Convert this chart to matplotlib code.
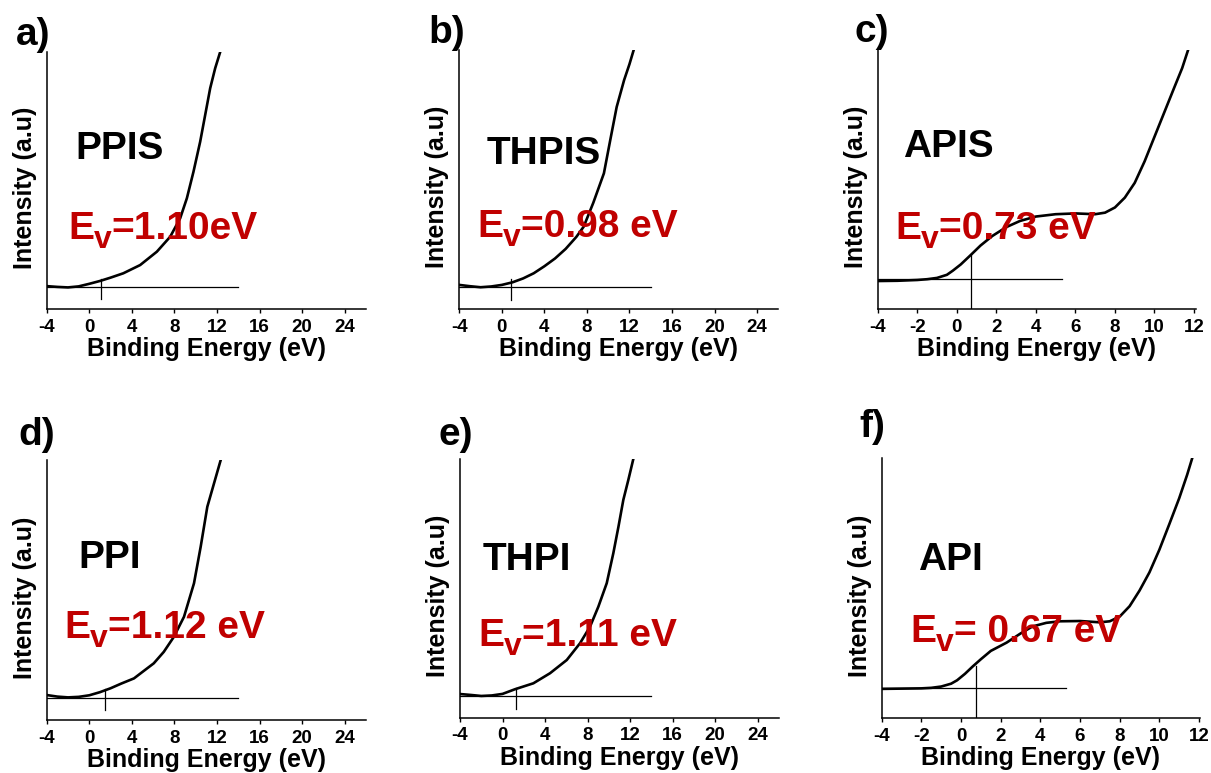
import matplotlib
matplotlib.use("Agg")
import matplotlib.pyplot as plt

W, H, DPI = 1211, 773, 100
RED = "#C00000"

# ---- data (intensity normalised 0..1 per panel) ----
letters = ["a)", "b)", "c)", "d)", "e)", "f)"]
names = ["PPIS", "THPIS", "APIS", "PPI", "THPI", "API"]
ev_texts = ["=1.10eV", "=0.98 eV", "=0.73 eV", "=1.12 eV", "=1.11 eV", "= 0.67 eV"]

ppis_x = [-4, -3, -2, -1, 0, 1, 2, 3.2, 4.78, 6.35, 7.6, 8.54, 9.17, 9.79, 10.42, 10.89,
          11.36, 11.83, 12.3]
ppis_y = [0.089, 0.086, 0.084, 0.088, 0.098, 0.109, 0.122, 0.139, 0.171, 0.223, 0.281, 0.353,
          0.431, 0.534, 0.651, 0.755, 0.859, 0.937, 1.0]

thpis_x = [-4, -3, -2, -1, 0, 1, 2, 3, 4, 5, 6, 7, 7.7, 8.6, 9.6, 10.2, 10.8, 11.5, 12.0, 12.4]
thpis_y = [0.093, 0.088, 0.084, 0.087, 0.093, 0.103, 0.118, 0.138, 0.165, 0.195, 0.232, 0.278,
           0.318, 0.410, 0.524, 0.653, 0.780, 0.884, 0.945, 1.0]

apis_x = [-4, -3, -2, -1.5, -1, -0.5, -0.2, 0.2, 0.7, 1.2, 1.8, 2.5, 3.2, 4.0, 5.0, 6.0, 7.0,
          7.5, 8.0, 8.5, 9.0, 9.5, 10.0, 10.5, 11.0, 11.4, 11.7]
apis_y = [0.108, 0.109, 0.112, 0.115, 0.120, 0.132, 0.148, 0.172, 0.208, 0.245, 0.282, 0.316,
          0.340, 0.357, 0.366, 0.369, 0.366, 0.372, 0.392, 0.430, 0.487, 0.570, 0.665, 0.760,
          0.855, 0.930, 1.0]

ppi_x = [-4, -3, -2, -1, 0, 1, 2, 3, 4.2, 5, 6.06, 7, 7.95, 8.9, 9.84, 10.47, 11.09, 11.72,
         12.35]
ppi_y = [0.096, 0.090, 0.087, 0.089, 0.095, 0.107, 0.122, 0.140, 0.160, 0.185, 0.218, 0.262,
         0.320, 0.397, 0.526, 0.667, 0.820, 0.910, 1.0]

thpi_x = [-4, -3, -2, -1, 0, 1.17, 2.9, 4.47, 6.04, 7.29, 8.23, 9.01, 9.8, 10.42, 10.9, 11.36,
          11.83, 12.3]
thpi_y = [0.0915, 0.088, 0.084, 0.086, 0.092, 0.110, 0.133, 0.172, 0.223, 0.288, 0.352, 0.429,
          0.520, 0.636, 0.738, 0.842, 0.919, 1.0]

api_x = [-4, -3, -2, -1.5, -1, -0.5, -0.2, 0.2, 0.6, 1.0, 1.5, 2.3, 3.0, 3.6, 4.3, 5.0, 6.0,
         7.0, 7.5, 8.0, 8.5, 9.0, 9.5, 10.0, 10.5, 11.0, 11.4, 11.66]
api_y = [0.112, 0.113, 0.114, 0.116, 0.121, 0.132, 0.145, 0.170, 0.199, 0.226, 0.258, 0.290,
         0.325, 0.352, 0.366, 0.372, 0.373, 0.368, 0.372, 0.390, 0.430, 0.490, 0.560, 0.647,
         0.745, 0.845, 0.935, 1.0]

curves_x = [ppis_x, thpis_x, apis_x, ppi_x, thpi_x, api_x]
curves_y = [ppis_y, thpis_y, apis_y, ppi_y, thpi_y, api_y]

# baseline fit (level, x end) and onset marker (x, y from, y to)
base_level = [0.084, 0.084, 0.115, 0.083, 0.084, 0.115]
base_end = [14.0, 14.0, 5.31, 14.0, 14.0, 5.30]
onset_x = [1.13, 0.84, 0.72, 1.50, 1.22, 0.74]
onset_lo = [0.037, 0.035, 0.0, 0.038, 0.034, 0.0]
onset_hi = [0.115, 0.115, 0.208, 0.119, 0.113, 0.200]

wide_ticks = [-4, 0, 4, 8, 12, 16, 20, 24]
narrow_ticks = [-4, -2, 0, 2, 4, 6, 8, 10, 12]

# ---- layout, in picture pixels ----
# axes box: left, top, right, bottom
boxes = [
    (46.7, 52, 366, 309), (459.3, 50, 778.3, 309), (877.7, 50, 1196, 309),
    (46.7, 460, 366, 720), (460, 459, 779, 717.7), (881.7, 458, 1200, 718),
]
xlims = [(-4, 26), (-4, 26), (-4, 12.1), (-4, 26), (-4, 26), (-4, 12.05)]
letter_pos = [(16, 45), (428, 43), (855, 42), (18, 445), (439, 445), (859, 437)]
name_pos = [(75, 159), (487, 164), (903, 157), (78, 568), (483, 570), (918, 570)]
ev_pos = [(68, 239), (477, 237), (895, 239), (64, 638), (478, 646), (910, 642)]

plt.rcParams["font.family"] = ["Liberation Sans", "DejaVu Sans"]
plt.rcParams["font.weight"] = "bold"
plt.rcParams["axes.unicode_minus"] = False

fig = plt.figure(figsize=(W / DPI, H / DPI), dpi=DPI)
renderer = fig.canvas.get_renderer()


def fx(px):
    return px / W


def fy(py):
    return 1 - py / H


def ev_label(x, y, rest, size=28):
    t = fig.text(fx(x), fy(y), "E", fontsize=size, color=RED, fontweight="bold", va="baseline")
    x1 = t.get_window_extent(renderer).x1
    s = fig.text(x1 / W, fy(y + 9), "v", fontsize=size * 0.82, color=RED, fontweight="bold",
                 va="baseline")
    x2 = s.get_window_extent(renderer).x1
    fig.text(x2 / W, fy(y), rest, fontsize=size, color=RED, fontweight="bold", va="baseline")


for i in range(6):
    l, t, r, b = boxes[i]
    ax = fig.add_axes([fx(l), fy(b), (r - l) / W, (b - t) / H])
    ax.plot(curves_x[i], curves_y[i], color="black", lw=1.9, solid_joinstyle="round", zorder=3)
    ax.plot([xlims[i][0], base_end[i]], [base_level[i], base_level[i]], color="black", lw=0.9)
    ax.plot([onset_x[i], onset_x[i]], [onset_lo[i], onset_hi[i]], color="black", lw=0.9)

    ax.set_xlim(*xlims[i])
    ax.set_ylim(0, 1)
    ax.set_xticks(wide_ticks if xlims[i][1] > 20 else narrow_ticks)
    ax.set_yticks([])
    ax.tick_params(axis="x", direction="out", length=3, width=1, pad=4, labelsize=13.5)
    for lab in ax.get_xticklabels():
        lab.set_fontweight("bold")
    for side in ("top", "right"):
        ax.spines[side].set_visible(False)
    for side in ("left", "bottom"):
        ax.spines[side].set_linewidth(1.1)

    ax.set_xlabel("Binding Energy (eV)", fontsize=18, fontweight="bold", labelpad=1)
    ax.set_ylabel("Intensity (a.u)", fontsize=18, fontweight="bold")
    ax.yaxis.set_label_coords(-10 / (r - l), 0.47)

    fig.text(fx(letter_pos[i][0]), fy(letter_pos[i][1]), letters[i], fontsize=28,
             fontweight="bold", va="baseline")
    fig.text(fx(name_pos[i][0]), fy(name_pos[i][1]), names[i], fontsize=28,
             fontweight="bold", va="baseline")
    ev_label(ev_pos[i][0], ev_pos[i][1], ev_texts[i])

fig.savefig("out.png", dpi=DPI)
